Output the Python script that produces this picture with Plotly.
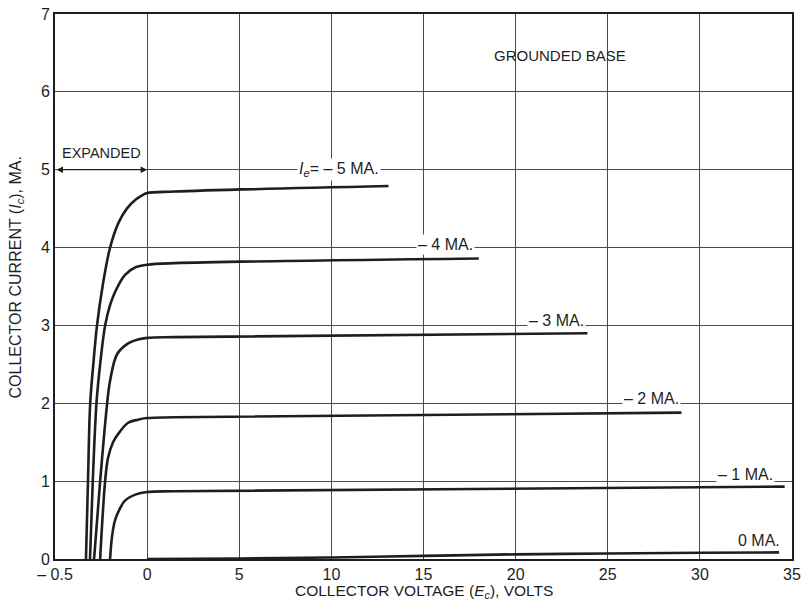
import plotly.graph_objects as go

# === data (collector volts, collector mA) ===
# the part left of 0 V is drawn on an expanded scale (-0.5 .. 0 V uses the width of 5 V)
volts_m5 = [-0.332, -0.321, -0.309, -0.292, -0.272, -0.242, -0.201, -0.155, -0.11, -0.06, -0.02, 0, 1.5, 13.1]
amps_m5 = [0, 1.0, 2.0, 2.5, 3.0, 3.5, 4.0, 4.32, 4.5, 4.62, 4.68, 4.70, 4.72, 4.79]

volts_m4 = [-0.31, -0.295, -0.275, -0.255, -0.228, -0.2, -0.174, -0.12, -0.06, 0, 1.5, 18.0]
amps_m4 = [0, 1.0, 2.0, 2.5, 3.0, 3.27, 3.43, 3.65, 3.75, 3.78, 3.80, 3.86]

volts_m3 = [-0.288, -0.255, -0.217, -0.201, -0.163, -0.103, -0.05, 0, 1.5, 23.9]
amps_m3 = [0, 1.0, 2.0, 2.29, 2.63, 2.77, 2.82, 2.84, 2.85, 2.90]

volts_m2 = [-0.255, -0.228, -0.212, -0.185, -0.156, -0.103, -0.05, 0, 1.5, 29.0]
amps_m2 = [0, 1.0, 1.3, 1.5, 1.61, 1.75, 1.79, 1.81, 1.82, 1.88]

volts_m1 = [-0.201, -0.19, -0.174, -0.145, -0.12, -0.06, 0, 1.5, 34.6]
amps_m1 = [0, 0.3, 0.5, 0.66, 0.75, 0.83, 0.86, 0.87, 0.93]

volts_0 = [0, 5, 10, 15, 20, 25, 30, 34.3]
amps_0 = [0, 0.005, 0.02, 0.04, 0.06, 0.07, 0.08, 0.085]

x_ticks = [-0.5, 0, 5, 10, 15, 20, 25, 30, 35]
x_ticktext = ["– 0.5", "0", "5", "10", "15", "20", "25", "30", "35"]
y_ticks = [0, 1, 2, 3, 4, 5, 6, 7]

curve_labels = ["<i>I<sub>e</sub></i>= – 5 MA.", "– 4 MA.", "– 3 MA.", "– 2 MA.", "– 1 MA.", "0 MA."]
label_volts = [10.4, 16.2, 22.2, 27.4, 32.5, 33.2]
label_amps = [5.0, 4.04, 3.06, 2.06, 1.09, 0.24]


def expand(v):
    # negative volts are stretched x10 on the drawing
    return v * 10 if v < 0 else v


def ex(vals):
    return [expand(v) for v in vals]


INK = "#1e1e1e"
FONT = "Liberation Sans"

fig = go.Figure()
for vs, am in [(volts_m5, amps_m5), (volts_m4, amps_m4), (volts_m3, amps_m3),
               (volts_m2, amps_m2), (volts_m1, amps_m1), (volts_0, amps_0)]:
    fig.add_trace(go.Scatter(
        x=ex(vs), y=am, mode="lines",
        line=dict(color=INK, width=2.6, shape="spline", smoothing=1.0),
        showlegend=False, hoverinfo="skip",
    ))

for txt, v, a in zip(curve_labels, label_volts, label_amps):
    fig.add_annotation(x=expand(v), y=a, text=txt, showarrow=False,
                       font=dict(family=FONT, size=16, color=INK),
                       bgcolor="white", borderpad=1)

fig.add_annotation(x=expand(22.4), y=6.47, text="GROUNDED BASE", showarrow=False,
                   font=dict(family=FONT, size=15, color=INK))
fig.add_annotation(x=expand(-0.25), y=5.22, text="EXPANDED", showarrow=False,
                   font=dict(family=FONT, size=14.5, color=INK))
fig.add_annotation(x=expand(0), y=5, ax=expand(-0.5), ay=5, axref="x", ayref="y",
                   xref="x", yref="y", text="", showarrow=True,
                   arrowhead=2, arrowside="end+start", arrowsize=1, arrowwidth=1.3,
                   arrowcolor=INK, standoff=0, startstandoff=0)

# axis titles
fig.add_annotation(xref="paper", yref="paper", x=0.5, y=-0.059, yanchor="middle",
                   text="COLLECTOR VOLTAGE (<i>E<sub>c</sub></i>), VOLTS", showarrow=False,
                   font=dict(family=FONT, size=15.5, color=INK))
fig.add_annotation(xref="paper", yref="paper", x=-0.052, y=0.516, xanchor="center",
                   text="COLLECTOR CURRENT (<i>I<sub>c</sub></i>), MA.", showarrow=False,
                   textangle=-90, font=dict(family=FONT, size=16, color=INK))

fig.update_layout(
    width=801, height=612,
    margin=dict(l=55, r=9, t=14, b=53),
    plot_bgcolor="white", paper_bgcolor="white",
    font=dict(family=FONT, color=INK),
)
fig.update_xaxes(
    range=[-5, 35], tickvals=ex(x_ticks), ticktext=x_ticktext, automargin=False,
    showgrid=True, gridcolor="#4a4a4a", gridwidth=1.2, zeroline=False,
    showline=True, linecolor=INK, linewidth=2, mirror=True, ticks="",
    tickfont=dict(family=FONT, size=16, color=INK),
)
fig.update_yaxes(
    range=[0, 7], tickvals=y_ticks, automargin=False,
    showgrid=True, gridcolor="#4a4a4a", gridwidth=1.2, zeroline=False,
    showline=True, linecolor=INK, linewidth=2, mirror=True, ticks="",
    tickfont=dict(family=FONT, size=16, color=INK),
)

# drop the browser's default body margin so the figure fills the window
fig.write_html("out.html", config={"displayModeBar": False},
               post_script="document.body.style.margin='0';")
